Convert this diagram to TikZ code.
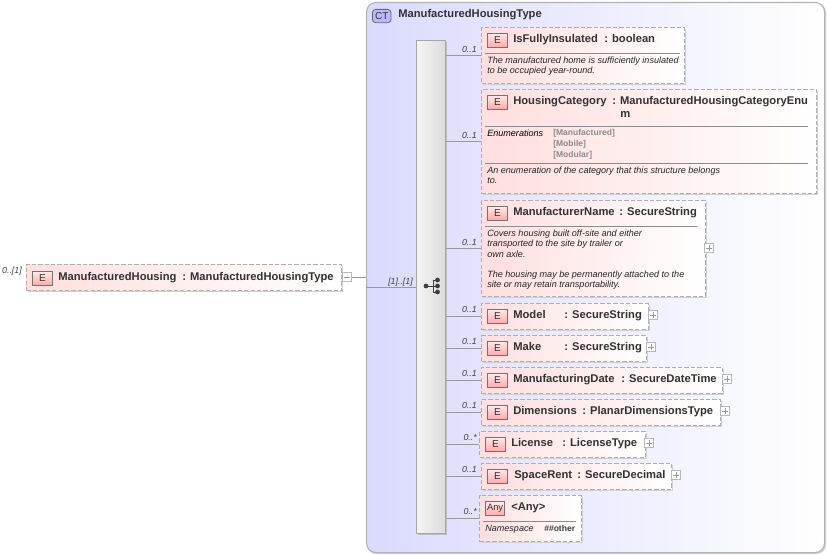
\documentclass[tikz,border=0pt]{standalone}
\usepackage{fontspec}
\setmainfont{Liberation Sans}
\usetikzlibrary{positioning}
\definecolor{bord}{RGB}{175,175,175}
\definecolor{pinkl}{RGB}{255,222,222}
\definecolor{ctl}{RGB}{218,218,255}
\definecolor{txt}{RGB}{50,50,50}
\tikzset{
  x=0.75pt,y=-0.75pt,
  conn/.style={draw=black!40,line width=0.5pt},
  el/.style={draw=bord,dash pattern=on 3.2pt off 1.6pt,line width=0.8pt,left color=pinkl,right color=white,inner sep=0pt,anchor=north west,shape=rectangle},
  shadowrect/.style={fill=black!18,draw=none},
  badge/.style={draw=black!55,line width=0.6pt,top color=pinkl!60,bottom color=red!35,minimum width=15pt,minimum height=10.5pt,inner sep=0pt,anchor=north west,font=\fontsize{7.5}{8}\selectfont,text=txt},
  nm/.style={anchor=base west,inner sep=0pt,font=\bfseries\fontsize{8.4}{9.9}\selectfont,text=txt},
  ds/.style={anchor=north west,inner sep=0pt,font=\itshape\fontsize{6.8}{7.6}\selectfont,text=black!85,align=left},
  en/.style={anchor=north west,inner sep=0pt,font=\bfseries\fontsize{6.4}{8.2}\selectfont,text=black!45,align=left},
  oc/.style={anchor=base east,inner sep=0pt,font=\itshape\fontsize{6.6}{8}\selectfont,text=black!75},
  sep/.style={draw=black!45,line width=0.5pt},
  plusbox/.style={draw=black!28,fill=white,line width=0.5pt,minimum size=7pt,inner sep=0pt,shape=rectangle},
}
\newcommand{\mkel}[5]{% name,x1,y1,x2,y2
  \fill[shadowrect] (#2+2,#3+2) rectangle (#4+2,#5+2);
  \node[el,minimum width=(#4-#2)*0.75pt,minimum height=(#5-#3)*0.75pt] (#1) at (#2,#3) {};
}
\newcommand{\mkbadge}[3]{\node[badge] (#1b) at (#2,#3) {E};}
\newcommand{\mkplus}[3]{%
  \node[plusbox] (#1) at (#2,#3) {};
  \draw[black!40,line width=0.4pt] ([xshift=-2pt]#1.center) -- ([xshift=2pt]#1.center) ([yshift=-2pt]#1.center) -- ([yshift=2pt]#1.center);
}
\begin{document}
\begin{tikzpicture}
\useasboundingbox (0,0) rectangle (828,555);
% complex type box
\fill[black!18,rounded corners=7pt] (367,3) rectangle (826,554);
\node[draw=black!30,line width=0.8pt,rounded corners=7pt,left color=ctl,right color=white,minimum width=343.5pt,minimum height=412.5pt,inner sep=0pt,anchor=north west] (ct) at (366,2) {};
\node[draw=black!60,line width=0.6pt,rounded corners=2.5pt,fill=ctl!85!blue,minimum width=14pt,minimum height=10pt,inner sep=0pt,anchor=north west,font=\fontsize{7.5}{8}\selectfont,text=txt] (ctb) at (372,9) {CT};
\node[nm] (ctn) at (398,18) {ManufacturedHousingType};
% sequence bar
\fill[black!25] (418,42) rectangle (447,535);
\node[draw=black!35,line width=0.6pt,left color=black!4,right color=black!14,minimum width=21.75pt,minimum height=369.75pt,inner sep=0pt,anchor=north west] (bar) at (416,40) {};
% sequence icon
\coordinate (sq) at (432,286);
\fill[black!75] (426,286) circle (1.8pt);
\fill[black!75] (437.5,280) circle (1.8pt) (437.5,286) circle (1.8pt) (437.5,292) circle (1.8pt);
\draw[black!75,line width=0.6pt] (426,286) -- (433,286) (433,280) -- (433,292) (433,280) -- (437.5,280) (433,286) -- (437.5,286) (433,292) -- (437.5,292);
% root
\mkel{root}{26}{264}{341}{290}
\mkbadge{root}{32}{271}
\node[nm] (rootn) at (58,280.5) {ManufacturedHousing};
\node[nm] (roott) at (182,280.5) {: ManufacturedHousingType};
\node[oc] (rootoc) at (22,274) {0..[1]};
\node[plusbox] (rootp) at (347,277) {};
\draw[black!40,line width=0.4pt] ([xshift=-2pt]rootp.center) -- ([xshift=2pt]rootp.center);
\coordinate (ctin) at (ct.west |- rootp);
\draw[conn] (rootp.east) -- (ctin);
\coordinate (ctin2) at (ct.west |- bar.west);
\draw[conn] (ctin2) -- (bar.west);
\node[oc] (seqoc) at (413,285) {[1]..[1]};
% IsFullyInsulated
\mkel{a}{481}{27}{684}{83}
\mkbadge{a}{487}{33}
\node[nm] (an) at (513,43) {IsFullyInsulated};
\node[nm] (at) at (604,43) {: boolean};
\draw[sep] (485,53) -- (680,53);
\node[ds] (ad) at (487,57) {The manufactured home is sufficiently insulated\\to be occupied year-round.};
\node[oc] (ao) at (477,53) {0..1};
% HousingCategory
\mkel{b}{481}{89}{816}{193}
\mkbadge{b}{487}{95}
\node[nm] (bn) at (513,105) {HousingCategory};
\node[nm] (bt) at (612,105) {: ManufacturedHousingCategoryEnu};
\node[nm] (bt2) at (620,117.5) {m};
\draw[sep] (485,126) -- (808,126);
\node[ds,text=black] (be) at (487,130) {Enumerations};
\node[en] (bv) at (553,129) {[Manufactured]\\{}[Mobile]\\{}[Modular]};
\draw[sep] (485,163) -- (808,163);
\node[ds] (bd) at (487,167) {An enumeration of the category that this structure belongs\\to.};
\node[oc] (bo) at (477,139) {0..1};
% ManufacturerName
\mkel{c}{481}{200}{705}{296}
\mkbadge{c}{487}{206}
\node[nm] (cn) at (513,216) {ManufacturerName};
\node[nm] (ct2) at (619,216) {: SecureString};
\draw[sep] (485,226) -- (697,226);
\node[ds] (cd) at (487,230) {Covers housing built off-site and either\\transported to the site by trailer or\\own axle.\\[7.6pt]The housing may be permanently attached to the\\site or may retain transportability.};
\node[oc] (co) at (477,246) {0..1};
\mkplus{cp}{709}{248}
% Model
\mkel{d}{481}{303}{648}{329}
\mkbadge{d}{487}{309}
\node[nm] (dn) at (513,319) {Model};
\node[nm] (dt) at (564,319) {: SecureString};
\node[oc] (do) at (477,313) {0..1};
\mkplus{dp}{653}{315}
% Make
\mkel{e}{481}{335}{646}{361}
\mkbadge{e}{487}{341}
\node[nm] (en1) at (513,351) {Make};
\node[nm] (et) at (564,351) {: SecureString};
\node[oc] (eo) at (477,345) {0..1};
\mkplus{ep}{651}{347}
% ManufacturingDate
\mkel{f}{481}{367}{722}{393}
\mkbadge{f}{487}{373}
\node[nm] (fn) at (513,383) {ManufacturingDate};
\node[nm] (ft) at (621,383) {: SecureDateTime};
\node[oc] (fo) at (477,377) {0..1};
\mkplus{fp}{727}{379}
% Dimensions
\mkel{g}{481}{399}{720}{425}
\mkbadge{g}{487}{405}
\node[nm] (gn) at (513,415) {Dimensions};
\node[nm] (gt) at (582,415) {: PlanarDimensionsType};
\node[oc] (go) at (477,409) {0..1};
\mkplus{gp}{725}{411}
% License
\mkel{h}{479}{431}{645}{457}
\mkbadge{h}{485}{437}
\node[nm] (hn) at (511,447) {License};
\node[nm] (ht) at (562,447) {: LicenseType};
\node[oc] (ho) at (477,441) {0..*};
\mkplus{hp}{649}{443}
% SpaceRent
\mkel{i}{481}{463}{671}{489}
\mkbadge{i}{487}{469}
\node[nm] (in) at (514,479) {SpaceRent};
\node[nm] (it) at (577,479) {: SecureDecimal};
\node[oc] (io) at (477,473) {0..1};
\mkplus{ip}{676}{475}
% Any
\mkel{j}{479}{495}{581}{541}
\node[badge,minimum width=14.5pt,font=\fontsize{7}{8}\selectfont] (jb) at (485,501) {Any};
\node[nm] (jn) at (511,511) {<Any>};
\draw[sep] (483,521) -- (576,521);
\node[ds] (jd) at (485,525) {Namespace};
\node[en,text=black!75] (jv) at (544,525) {\#\#other};
\node[oc] (jo) at (477,515) {0..*};
% connectors
\foreach \k in {a,b,c,d,e,f,g,h,i,j}{
  \coordinate (s\k) at (bar.east |- \k.west);
  \draw[conn] (s\k) -- (\k.west);
}
\end{tikzpicture}
\end{document}
